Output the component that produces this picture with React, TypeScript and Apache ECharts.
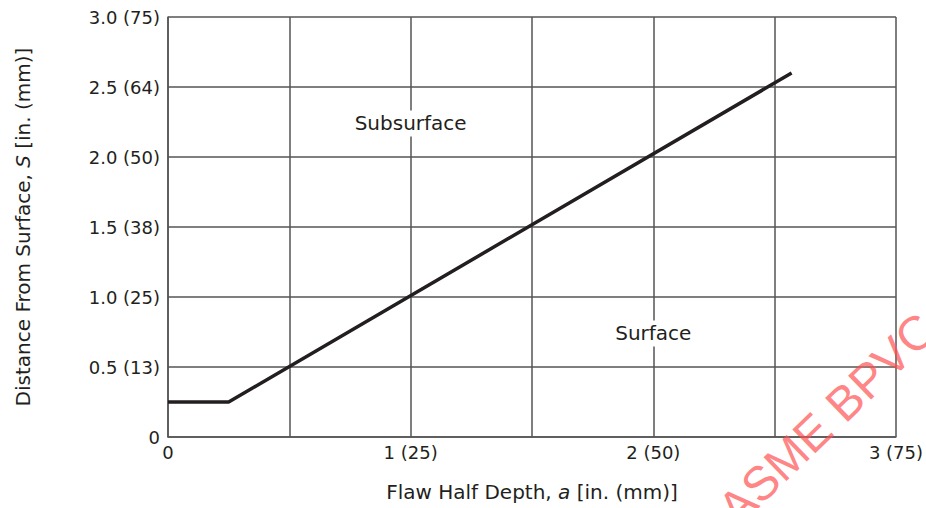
import React, { useEffect, useRef } from "react";
import * as echarts from "echarts";

// Axis ticks (inches) and their labels
const xTickValues = [0, 1, 2, 3];
const xTickLabels = ["0", "1 (25)", "2 (50)", "3 (75)"];
const yTickValues = [0, 0.5, 1.0, 1.5, 2.0, 2.5, 3.0];
const yTickLabels = ["0", "0.5 (13)", "1.0 (25)", "1.5 (38)", "2.0 (50)", "2.5 (64)", "3.0 (75)"];

// Boundary line: flaw half depth a vs. distance from surface S
const boundaryA = [0, 0.25, 2.57];
const boundaryS = [0.25, 0.25, 2.6];

// Region labels
const regionNames = ["Subsurface", "Surface"];
const regionA = [1.0, 2.0];
const regionS = [2.24, 0.74];

const FONT = "DejaVu Sans";
const INK = "#231f20";

export default function App() {
  const ref = useRef<HTMLDivElement>(null);

  useEffect(() => {
    if (!ref.current) return;
    const chart = echarts.init(ref.current, undefined, { renderer: "svg" });

    const lineData = boundaryA.map((a, i) => [a, boundaryS[i]]);
    const regionData = regionNames.map((n, i) => ({ name: n, value: [regionA[i], regionS[i]] }));

    const xLabel = (v: number) => {
      const i = xTickValues.findIndex((t) => Math.abs(t - v) < 1e-6);
      return i >= 0 ? xTickLabels[i] : "";
    };
    const yLabel = (v: number) => {
      const i = yTickValues.findIndex((t) => Math.abs(t - v) < 1e-6);
      return i >= 0 ? yTickLabels[i] : "";
    };

    chart.setOption({
      animation: false,
      backgroundColor: "#ffffff",
      grid: { left: 168, right: 28, top: 17, bottom: 71 },
      xAxis: {
        type: "value",
        min: 0,
        max: 3,
        interval: 0.5,
        name: "Flaw Half Depth, {i|a} [in. (mm)]",
        nameLocation: "middle",
        nameGap: 45,
        nameTextStyle: {
          fontFamily: FONT,
          fontSize: 20,
          color: INK,
          rich: { i: { fontStyle: "italic", fontFamily: FONT, fontSize: 20, color: INK } },
        },
        axisLine: { show: true, lineStyle: { color: "#555", width: 1.5 } },
        axisTick: { show: false },
        axisLabel: {
          formatter: xLabel,
          fontFamily: FONT,
          fontSize: 18,
          color: INK,
          margin: 6,
          showMinLabel: true,
          showMaxLabel: true,
        },
        splitLine: { show: true, lineStyle: { color: "#555", width: 1.5 } },
      },
      yAxis: {
        type: "value",
        min: 0,
        max: 3,
        interval: 0.5,
        name: "Distance From Surface, {i|S} [in. (mm)]",
        nameLocation: "middle",
        nameRotate: 90,
        nameGap: 135,
        nameTextStyle: {
          fontFamily: FONT,
          fontSize: 20,
          color: INK,
          rich: { i: { fontStyle: "italic", fontFamily: FONT, fontSize: 20, color: INK } },
        },
        axisLine: { show: true, lineStyle: { color: "#555", width: 1.5 } },
        axisTick: { show: false },
        axisLabel: {
          formatter: yLabel,
          fontFamily: FONT,
          fontSize: 18,
          color: INK,
          margin: 8,
        },
        splitLine: { show: true, lineStyle: { color: "#555", width: 1.5 } },
      },
      series: [
        {
          type: "line",
          data: lineData,
          symbol: "none",
          lineStyle: { color: INK, width: 3.5 },
          z: 5,
        },
        {
          type: "scatter",
          data: regionData,
          symbolSize: 0,
          itemStyle: { opacity: 1 },
          z: 4,
          label: {
            show: true,
            position: "inside",
            formatter: "{b}",
            fontFamily: FONT,
            fontSize: 20,
            color: INK,
            opacity: 1,
            backgroundColor: "#ffffff",
            padding: [3, 1],
          },
          emphasis: { disabled: true },
        },
      ],
      graphic: [
        {
          type: "text",
          x: 827,
          y: 419,
          rotation: (44 * Math.PI) / 180,
          z: 100,
          style: {
            text: "ASME BPVC",
            fontFamily: "Liberation Sans",
            fontSize: 48,
            fill: "rgba(255, 80, 80, 0.7)",
            align: "center",
            verticalAlign: "middle",
          },
        },
      ],
    });

    return () => chart.dispose();
  }, []);

  return (
    <div
      ref={ref}
      style={{ position: "fixed", left: 0, top: 0, width: 926, height: 508 }}
    />
  );
}
